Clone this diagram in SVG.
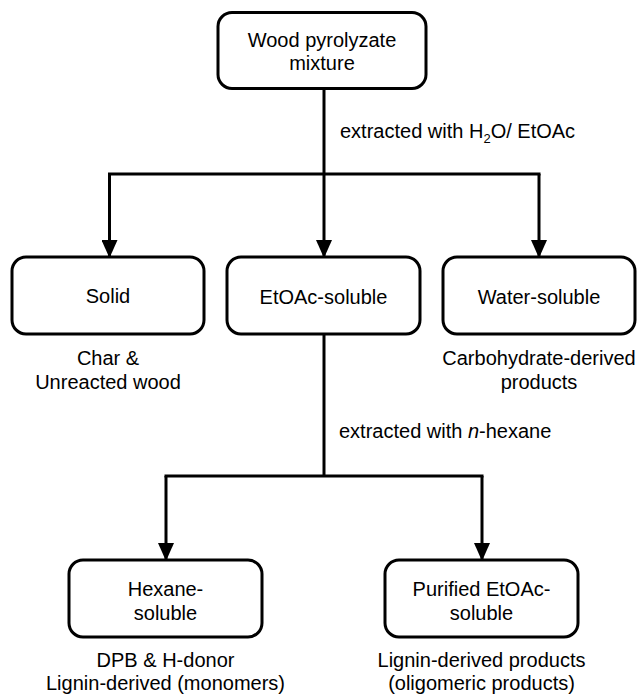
<svg xmlns="http://www.w3.org/2000/svg" width="639" height="695" viewBox="0 0 639 695">
<style>
.box{fill:#fff;stroke:#000;stroke-width:3}
.ln{fill:none;stroke:#000;stroke-width:3}
text{font-family:"Liberation Sans",Arial,sans-serif;font-size:20px;fill:#000}
.c{text-anchor:middle}
</style>
<defs>
<marker id="ah" markerWidth="18" markerHeight="16" refX="17" refY="8" orient="auto" markerUnits="userSpaceOnUse" viewBox="0 0 18 16">
<path d="M0,0 L18,8 L0,16 Z" fill="#000"/>
</marker>
</defs>
<g id="connectors">
<path class="ln" d="M324,88 V174"/>
<path class="ln" d="M108,174 H540.5"/>
<path class="ln" d="M109.5,174 V257" marker-end="url(#ah)"/>
<path class="ln" d="M324,174 V257" marker-end="url(#ah)"/>
<path class="ln" d="M539,174 V257" marker-end="url(#ah)"/>
<path class="ln" d="M324,335 V476"/>
<path class="ln" d="M164.5,476 H483.5"/>
<path class="ln" d="M166,476 V560" marker-end="url(#ah)"/>
<path class="ln" d="M482,476 V560" marker-end="url(#ah)"/>
<text x="340" y="138">extracted with H<tspan font-size="13" dy="5">2</tspan><tspan dy="-5">O/ EtOAc</tspan></text>
<text x="339" y="438">extracted with <tspan font-style="italic">n</tspan>-hexane</text>
</g>
<g id="wood">
<rect class="box" x="218" y="12.5" width="208" height="76" rx="14"/>
<text class="c" x="322" y="47">Wood pyrolyzate</text>
<text class="c" x="322" y="70">mixture</text>
</g>
<g id="solid">
<rect class="box" x="12" y="257" width="192" height="77" rx="14"/>
<text class="c" x="108" y="303">Solid</text>
<text class="c" x="108" y="365">Char &amp;</text>
<text class="c" x="108" y="389">Unreacted wood</text>
</g>
<g id="etoac">
<rect class="box" x="227" y="257" width="193" height="77" rx="14"/>
<text class="c" x="323.5" y="304">EtOAc-soluble</text>
</g>
<g id="water">
<rect class="box" x="443" y="257" width="192" height="77" rx="14"/>
<text class="c" x="539" y="304">Water-soluble</text>
<text class="c" x="539" y="365">Carbohydrate-derived</text>
<text class="c" x="539" y="389">products</text>
</g>
<g id="hexane">
<rect class="box" x="69" y="560" width="193" height="77" rx="14"/>
<text class="c" x="165.5" y="596">Hexane-</text>
<text class="c" x="165.5" y="620">soluble</text>
<text class="c" x="165.5" y="667">DPB &amp; H-donor</text>
<text class="c" x="165.5" y="690">Lignin-derived (monomers)</text>
</g>
<g id="purified">
<rect class="box" x="385" y="560" width="193" height="77" rx="14"/>
<text class="c" x="481.5" y="596">Purified EtOAc-</text>
<text class="c" x="481.5" y="620">soluble</text>
<text class="c" x="481.5" y="667">Lignin-derived products</text>
<text class="c" x="481.5" y="690">(oligomeric products)</text>
</g>
</svg>
